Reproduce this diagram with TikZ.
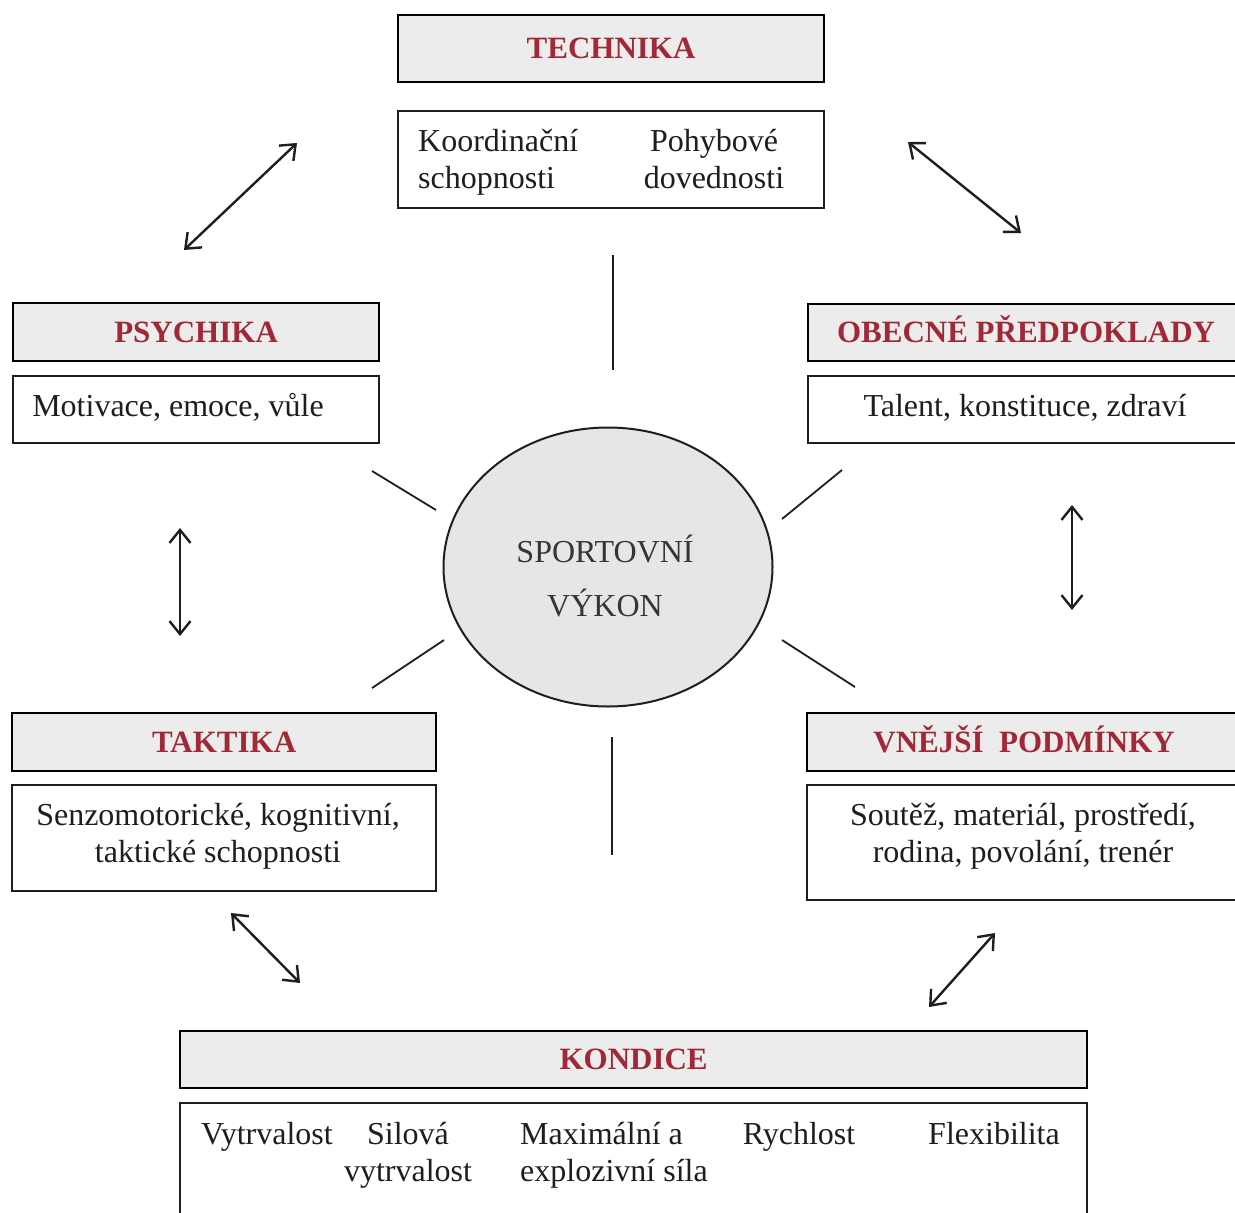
\documentclass[tikz,border=0pt]{standalone}
\usepackage{fontspec}
\setmainfont{Liberation Serif}
\usetikzlibrary{arrows.meta,shapes.geometric}
\definecolor{hdrred}{RGB}{160,40,55}
\definecolor{hdrfill}{RGB}{236,236,236}
\definecolor{ovalfill}{RGB}{230,230,230}
\definecolor{ink}{RGB}{30,30,30}
\begin{document}
\begin{tikzpicture}[x=1pt,y=-1pt,
  hdr/.style={draw=black, line width=2.2pt, fill=hdrfill, anchor=north west, inner sep=0pt,
    font=\fontsize{31}{37}\selectfont\bfseries, text=hdrred, text height=20.5pt, text depth=0pt},
  cbox/.style={draw=ink, line width=1.8pt, fill=white, anchor=north west, inner sep=0pt},
  txt/.style={font=\fontsize{32}{37}\selectfont, text=ink, inner sep=0pt, align=center},
  dbl/.style={{Straight Barb[length=13pt,width=21pt]}-{Straight Barb[length=13pt,width=21pt]}, line width=2.4pt, draw=ink},
  ray/.style={line width=1.8pt, draw=ink}]
\useasboundingbox (0,0) rectangle (1235,1213);
\fill[white] (0,0) rectangle (1235,1213);

% headers
\node[hdr, minimum width=426, minimum height=67] (techH) at (397,14) {TECHNIKA};
\node[hdr, minimum width=366, minimum height=58] (psyH) at (12,302) {PSYCHIKA};
\node[hdr, minimum width=436, minimum height=57] (obH) at (807,303) {OBECNÉ PŘEDPOKLADY};
\node[hdr, minimum width=424, minimum height=58] (takH) at (11,712) {TAKTIKA};
\node[hdr, minimum width=434, minimum height=58] (vnH) at (806,712) {VNĚJŠÍ\ \ PODMÍNKY};
\node[hdr, minimum width=907, minimum height=57] (konH) at (179,1030) {KONDICE};

% content boxes
\node[cbox, minimum width=426, minimum height=97] (techB) at (397,110) {};
\node[cbox, minimum width=366, minimum height=67] (psyB) at (12,375) {};
\node[cbox, minimum width=436, minimum height=67] (obB) at (807,375) {};
\node[cbox, minimum width=424, minimum height=106] (takB) at (11,784) {};
\node[cbox, minimum width=434, minimum height=115] (vnB) at (806,784) {};
\node[cbox, minimum width=907, minimum height=130] (konB) at (179,1102) {};

% content texts
\node[txt, anchor=west, align=left] (koord) at (418,162.1) {\strut Koordinační\\\strut schopnosti};
\node[txt] (pohyb) at (714,162.1) {\strut Pohybové\\\strut dovednosti};
\node[txt] (motiv) at (178,408.6) {\strut Motivace, emoce, vůle};
\node[txt] (talent) at (1025,408.6) {\strut Talent, konstituce, zdraví};
\node[txt] (senzo) at (218,836.6) {\strut Senzomotorické, kognitivní,\\\strut taktické schopnosti};
\node[txt] (soutez) at (1023,836.6) {\strut Soutěž, materiál, prostředí,\\\strut rodina, povolání, trenér};
\node[txt] (vytr) at (267,1136.6) {\strut Vytrvalost};
\node[txt] (silova) at (408,1155.1) {\strut Silová\\\strut vytrvalost};
\node[txt, anchor=west, align=left] (maxim) at (520,1155.1) {\strut Maximální a\\\strut explozivní síla};
\node[txt] (rychl) at (799,1136.6) {\strut Rychlost};
\node[txt] (flex) at (994,1136.6) {\strut Flexibilita};

% central ellipse
\node[ellipse, draw=ink, line width=2pt, fill=ovalfill, minimum width=329, minimum height=279, inner sep=0pt] (vykon) at (608,567) {};
\node[txt, font=\fontsize{32}{54}\selectfont, text=ink!90] (vykonT) at (605,576) {SPORTOVNÍ\\VÝKON};

% rays
\coordinate (r1a) at (613,255); \coordinate (r1b) at (613,370);
\coordinate (r2a) at (612,737); \coordinate (r2b) at (612,855);
\coordinate (r3a) at (372,471); \coordinate (r3b) at (436,510);
\coordinate (r4a) at (782,519); \coordinate (r4b) at (842,470);
\coordinate (r5a) at (372,688); \coordinate (r5b) at (444,640);
\coordinate (r6a) at (782,640); \coordinate (r6b) at (855,687);
\draw[ray] (r1a) -- (r1b);
\draw[ray] (r2a) -- (r2b);
\draw[ray] (r3a) -- (r3b);
\draw[ray] (r4a) -- (r4b);
\draw[ray] (r5a) -- (r5b);
\draw[ray] (r6a) -- (r6b);

% double arrows
\coordinate (a1a) at (184,250); \coordinate (a1b) at (297,143);
\coordinate (a2a) at (908,142); \coordinate (a2b) at (1021,233);
\coordinate (a3a) at (180,528); \coordinate (a3b) at (180,636);
\coordinate (a4a) at (1072,505); \coordinate (a4b) at (1072,610);
\coordinate (a5a) at (231,913); \coordinate (a5b) at (300,983);
\coordinate (a6a) at (929,1007); \coordinate (a6b) at (995,933);
\draw[dbl] (a1a) -- (a1b);
\draw[dbl] (a2a) -- (a2b);
\draw[dbl] (a3a) -- (a3b);
\draw[dbl] (a4a) -- (a4b);
\draw[dbl] (a5a) -- (a5b);
\draw[dbl] (a6a) -- (a6b);
\end{tikzpicture}
\end{document}
